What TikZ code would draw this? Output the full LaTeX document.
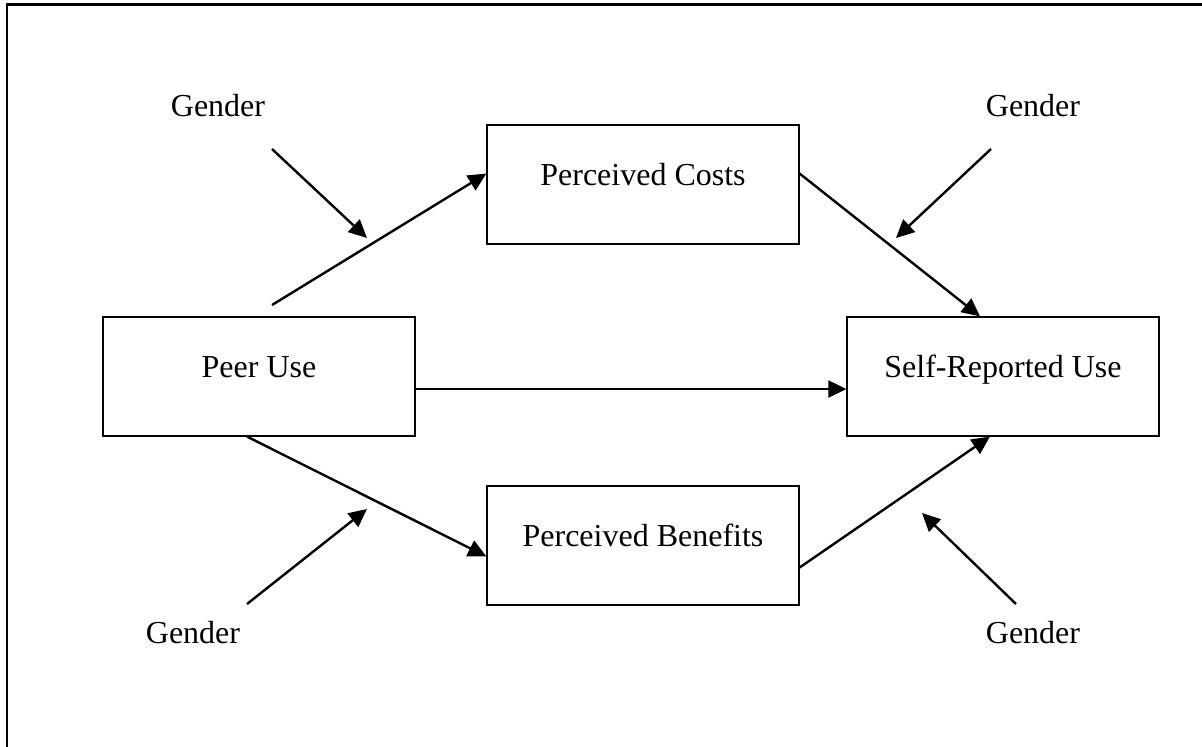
\documentclass[tikz,border=0pt]{standalone}
\usepackage{fontspec}
\setmainfont{Liberation Serif}
\usetikzlibrary{arrows.meta}

\begin{document}
\begin{tikzpicture}[x=0.375pt,y=-0.375pt,
        box/.style={draw,line width=0.45pt,minimum width=117pt,minimum height=44.6pt,
            text height=8pt,text depth=7.2pt,font=\fontsize{12}{14}\selectfont},
        lbl/.style={font=\fontsize{12}{14}\selectfont},
        conn/.style={line width=0.9pt,-{Triangle[length=6.8pt,width=6.4pt]}}]
        \useasboundingbox (0,0) rectangle (1202,747);

        % Frame (top and left edge only)
        \draw[line width=0.9pt] (7,747) -- (7,4.5) -- (1202,4.5);

        % Boxes
        \node[box] (peer) at (259,376.5) {Peer Use};
        \node[box] (costs) at (643,184.5) {Perceived Costs};
        \node[box] (benefits) at (643,545.5) {Perceived Benefits};
        \node[box] (self) at (1003,376.5) {Self-Reported Use};

        % Moderator labels
        \node[lbl] (genderA) at (218,106) {Gender};
        \node[lbl] (genderB) at (1033,106) {Gender};
        \node[lbl] (genderC) at (193,633) {Gender};
        \node[lbl] (genderD) at (1033,633) {Gender};

        % Paths between the boxes
        \coordinate (costsTail) at (272,305);
        \draw[conn] (costsTail) -- (costs.176);
        \draw[conn] ([yshift=-4.7pt]peer.east) -- ([yshift=-4.7pt]self.west);
        \draw[conn] ([xshift=-4.5pt]peer.south) -- (benefits.184);
        \draw[conn] (costs.4) -- ([xshift=-8.6pt]self.north);
        \draw[conn] (benefits.-8) -- ([xshift=-4.9pt]self.south);

        % Moderation arrows
        \coordinate (modA) at (272,149);
        \coordinate (tipA) at (367,238);
        \coordinate (modB) at (991,149);
        \coordinate (tipB) at (896,238);
        \coordinate (modC) at (247,604);
        \coordinate (tipC) at (367,509);
        \coordinate (modD) at (1016,604);
        \coordinate (tipD) at (922,513);
        \draw[conn] (modA) -- (tipA);
        \draw[conn] (modB) -- (tipB);
        \draw[conn] (modC) -- (tipC);
        \draw[conn] (modD) -- (tipD);
    \end{tikzpicture}
\end{document}
